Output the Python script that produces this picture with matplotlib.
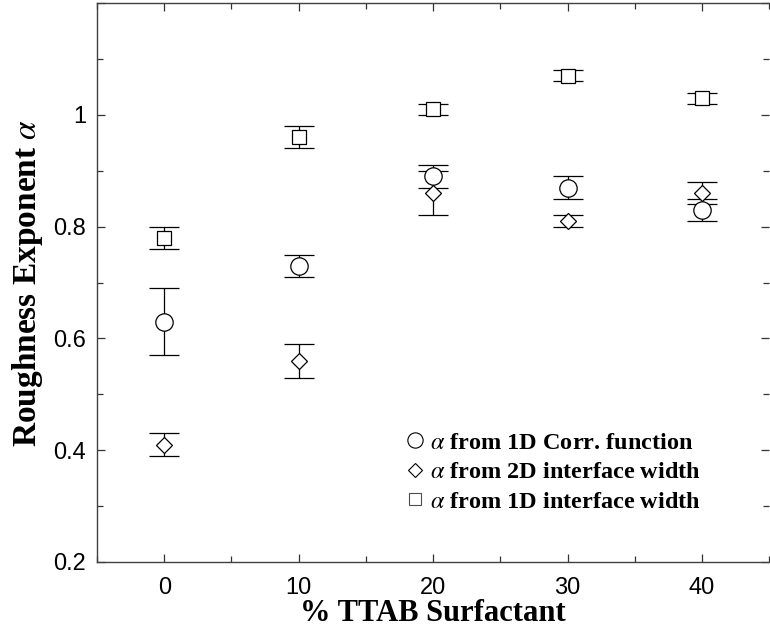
import numpy as np
import matplotlib.pyplot as plt
from matplotlib.lines import Line2D
from matplotlib.ticker import MultipleLocator, FuncFormatter

plt.rcParams['mathtext.fontset'] = 'stix'

# % TTAB surfactant
ttab = [0, 10, 20, 30, 40]

# alpha from 1D correlation function (circles)
corr_1d = [0.63, 0.73, 0.89, 0.87, 0.83]
corr_1d_err = [0.06, 0.02, 0.02, 0.02, 0.02]

# alpha from 2D interface width (diamonds)
width_2d = [0.41, 0.56, 0.86, 0.81, 0.86]
width_2d_err = [0.02, 0.03, 0.04, 0.01, 0.02]

# alpha from 1D interface width (squares)
width_1d = [0.78, 0.96, 1.01, 1.07, 1.03]
width_1d_err = [0.02, 0.02, 0.01, 0.01, 0.01]

serif = 'Liberation Serif'
sans = 'Liberation Sans'

fig = plt.figure(figsize=(7.7, 6.3), dpi=100)
ax = fig.add_axes([0.126, 0.108, 0.873, 0.887])


def draw(y, err, marker, ms):
    line, caps, bars = ax.errorbar(ttab, y, yerr=err, fmt=marker, ms=ms,
                                   mfc='white', mec='black', mew=0.9,
                                   ecolor='black', elinewidth=0.9,
                                   capsize=11, capthick=1.1, zorder=3)
    for c in caps:
        c.set_color('0.4')
    line.set_zorder(4)


draw(corr_1d, corr_1d_err, 'o', 12.5)
draw(width_2d, width_2d_err, 'D', 8.5)
draw(width_1d, width_1d_err, 's', 10)

ax.set_xlim(-5, 45)
ax.set_ylim(0.2, 1.2)

ax.xaxis.set_major_locator(MultipleLocator(10))
ax.xaxis.set_minor_locator(MultipleLocator(5))
ax.yaxis.set_major_locator(MultipleLocator(0.2))
ax.yaxis.set_minor_locator(MultipleLocator(0.1))
# the top value (1.2) is left without a label
ax.yaxis.set_major_formatter(
    FuncFormatter(lambda v, p: '' if v > 1.1 else '%g' % round(v, 2)))
ax.tick_params(which='both', direction='in', top=True, right=True,
               color='0.2', width=0.9)
ax.tick_params(which='major', length=6, labelsize=17)
ax.tick_params(axis='x', which='major', pad=11)
ax.tick_params(axis='y', which='major', pad=8)
ax.tick_params(which='minor', length=4)
for lab in ax.get_xticklabels() + ax.get_yticklabels():
    lab.set_family(sans)
for s in ax.spines.values():
    s.set_color('0.25')
    s.set_linewidth(1.0)
ax.spines['right'].set_visible(False)

ax.set_xlabel('% TTAB Surfactant', family=serif, fontweight='bold',
              fontsize=22, labelpad=0)
ax.set_ylabel(r'Roughness Exponent $\alpha$', family=serif,
              fontweight='bold', fontsize=24, labelpad=6)

handles = [
    Line2D([], [], ls='none', marker='o', ms=11, mfc='white', mec='black', mew=0.8),
    Line2D([], [], ls='none', marker='D', ms=7.5, mfc='white', mec='black', mew=0.8),
    Line2D([], [], ls='none', marker='s', ms=9, mfc='white', mec='0.3', mew=0.8),
]
labels = [r'$\alpha$ from 1D Corr. function',
          r'$\alpha$ from 2D interface width',
          r'$\alpha$ from 1D interface width']
leg = ax.legend(handles, labels, loc='upper left', bbox_to_anchor=(0.446, 0.25),
                frameon=False, handlelength=0.7, handletextpad=0.25,
                labelspacing=0.3, borderaxespad=0,
                prop={'family': serif, 'weight': 'bold', 'size': 17.5})

fig.savefig('out.png', dpi=100)
